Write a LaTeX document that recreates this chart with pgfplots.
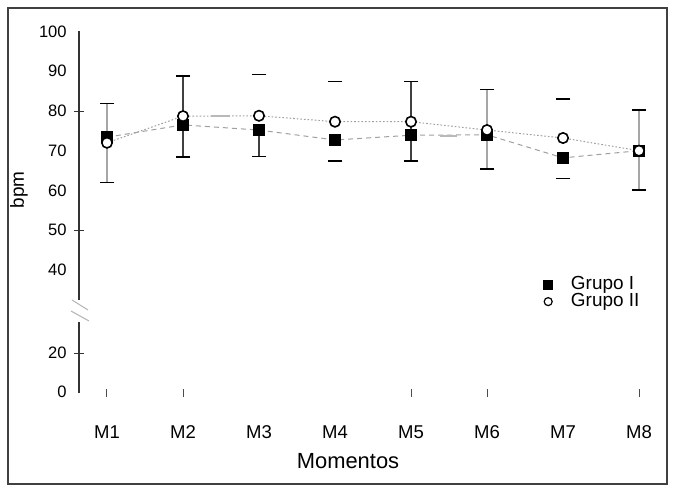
\documentclass[border=0pt]{standalone}
\usepackage{fontspec}
\setmainfont{Liberation Sans}
\usepackage{pgfplots}
\pgfplotsset{compat=1.18}

\begin{document}
\begin{tikzpicture}
\path[use as bounding box] (-39.5bp,-46bp) rectangle (299bp,196.5bp);
\draw[black!75,line width=0.6bp] (-35.5bp,-45.5bp) rectangle (294bp,192.5bp);
\begin{axis}[
  scale only axis, width=290.5bp, height=181bp,
  xmin=0.6316, xmax=8.276, ymin=8.97, ymax=100.15,
  axis line style={draw=none}, clip=false,
  /pgf/number format/assume math mode=true,
  xtick pos=bottom, ytick pos=left,
  xtick={1,2,3,4,5,6,7,8},
  xticklabels={M1,M2,M3,M4,M5,M6,M7,M8},
  ytick={9.2,19,40,50,60,70,80,90,100},
  yticklabels={0,20,40,50,60,70,80,90,100},
  tick style={draw=none},
  xticklabel style={font=\fontsize{9.3}{10}\selectfont, anchor=north, inner sep=0pt, yshift=-16bp},
  yticklabel style={font=\fontsize{8.3}{10}\selectfont, anchor=east, inner sep=0pt, xshift=-6bp},
  extra x ticks={1,2,5,6,8}, extra x tick labels={},
  extra x tick style={tick style={draw=black!70, line width=0.5bp}, major tick length=4bp, tick align=center},
  extra y ticks={19,50,80}, extra y tick labels={},
  extra y tick style={tick style={draw=black!80, line width=0.5bp}, major tick length=5bp, tick align=center},
  xlabel={Momentos}, ylabel={bpm},
  xlabel style={font=\fontsize{11}{12}\selectfont, at={(axis description cs:0.463,-0.188)}, anchor=center},
  ylabel style={font=\fontsize{9.5}{11}\selectfont, at={(axis description cs:-0.1033,0.561)}, anchor=center},
  legend style={draw=none, fill=none, at={(axis description cs:0.789,0.335)}, anchor=north west,
    font=\fontsize{9.5}{10}\selectfont, row sep=0bp, column sep=9bp, nodes={inner sep=0.2bp}},
  legend cell align=left,
  legend image code/.code={\draw[#1] plot coordinates {(3bp,0bp)};},
]
\addlegendimage{only marks, mark=square*, mark size=2.2bp, black}
\addlegendentry{Grupo I}
\addlegendimage{only marks, mark=o, mark size=2bp, black, mark options={line width=0.6bp}}
\addlegendentry{Grupo II}

% connecting lines
\addplot[forget plot, gray!75, line width=0.5bp, dash pattern=on 2.5bp off 2bp] coordinates {
(1,73.4) (2,76.5) (3,75.2) (4,72.7) (5,73.9) (6,74.0) (7,68.2) (8,70.0)};
\addplot[forget plot, gray!75, line width=0.5bp, dash pattern=on 0.8bp off 1bp] coordinates {
(1,72.0) (2,78.7) (3,78.8) (4,77.3) (5,77.3) (6,75.2) (7,73.2) (8,70.0)};

% error bar stems
\addplot[forget plot, gray!70, line width=0.7bp, unbounded coords=jump] coordinates {
(1,81.9) (1,61.9) (1,nan) (6,85.5) (6,65.4) (6,nan) (8,80.25) (8,60.1)};
\addplot[forget plot, black!75, line width=0.6bp, unbounded coords=jump] coordinates {
(2,88.8) (2,68.4) (2,nan) (3,75.2) (3,68.5) (3,nan) (5,87.4) (5,67.4)};

% error bar caps
\addplot[forget plot, only marks, mark=-, mark size=3.7bp, black, mark options={line width=0.6bp}] coordinates {
(1,81.9) (1,61.9) (2,88.8) (2,68.4) (3,89.1) (3,68.5) (4,87.4) (4,67.4)
(5,87.4) (5,67.4) (6,85.5) (6,65.4) (7,83.0) (7,63.0) (8,80.25) (8,60.1)};
\addplot[forget plot, only marks, mark=-, mark size=4.7bp, gray!55, mark options={line width=0.9bp}] coordinates {
(2.49,78.7)};
\addplot[forget plot, only marks, mark=-, mark size=4.3bp, gray!55, mark options={line width=0.9bp}] coordinates {
(5.49,73.8)};

% markers
\addplot[forget plot, only marks, mark=square*, mark size=2.8bp, black] coordinates {
(1,73.4) (2,76.5) (3,75.2) (4,72.7) (5,73.9) (6,74.0) (7,68.2) (8,70.0)};
\addplot[forget plot, only marks, mark=*, mark size=2.6bp, mark options={fill=white, draw=black, line width=0.8bp}] coordinates {
(1,72.0) (2,78.7) (3,78.8) (4,77.3) (5,77.3) (6,75.2) (7,73.2) (8,70.0)};
\end{axis}
% y axis with break
\draw[black!80, line width=0.6bp] (0bp,181bp) -- (0bp,46.5bp);
\draw[black!80, line width=0.6bp] (0bp,35.5bp) -- (0bp,0bp);
\draw[gray!60, line width=0.5bp] (-3.5bp,46.5bp) -- (4.5bp,41.5bp);
\draw[gray!60, line width=0.5bp] (-4bp,41bp) -- (5bp,36bp);
\end{tikzpicture}
\end{document}
